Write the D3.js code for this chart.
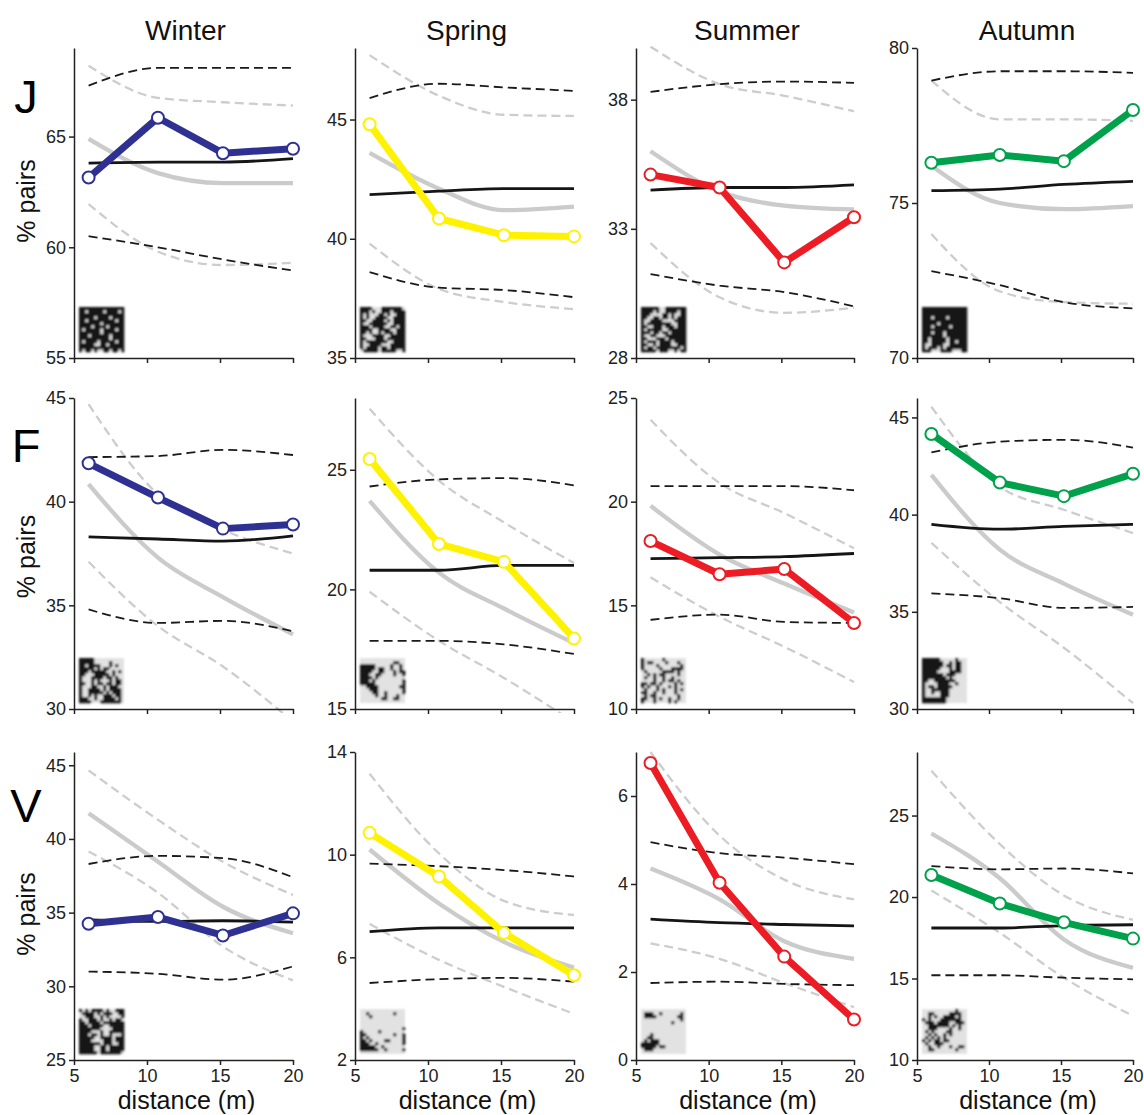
<!DOCTYPE html>
<html>
<head>
<meta charset="utf-8">
<script src="https://cdn.jsdelivr.net/npm/d3@7"></script>
<style>
  body { margin: 0; background: #fff; }
  svg { display: block; font-family: "Liberation Sans", Arial, Helvetica, sans-serif; }
</style>
</head>
<body>
<svg id="chart" width="1144" height="1115"></svg>
<script>
// ---- data -------------------------------------------------------------
const seasons = ["Winter", "Spring", "Summer", "Autumn"];
const rowLabels = ["J", "F", "V"];
const seasonColors = ["#2e3192", "#fff200", "#ed1c24", "#00a14b"];
const distances = [6, 10.75, 15.2, 20];
const xTicks = [5, 10, 15, 20];

// y-axis extent and tick values, rows J/F/V x seasons
const yDomains = [
  [[55, 69], [35, 48], [28, 40], [70, 80]],
  [[30, 45], [15, 28], [10, 25], [30, 46]],
  [[25, 45.9], [2, 14], [0, 7], [10, 28.9]]
];
const yTicks = [
  [[55, 60, 65], [35, 40, 45], [28, 33, 38], [70, 75, 80]],
  [[30, 35, 40, 45], [15, 20, 25], [10, 15, 20, 25], [30, 35, 40, 45]],
  [[25, 30, 35, 40, 45], [2, 6, 10, 14], [0, 2, 4, 6], [10, 15, 20, 25]]
];

// observed % of pairs
const observed = [
  [[63.15, 65.85, 64.25, 64.45], [44.8, 40.85, 40.15, 40.1], [35.1, 34.6, 31.7, 33.45], [76.3, 76.55, 76.35, 78.0]],
  [[41.85, 40.2, 38.7, 38.9], [25.45, 21.9, 21.15, 17.95], [18.1, 16.5, 16.75, 14.15], [44.15, 41.65, 40.95, 42.1]],
  [[34.25, 34.7, 33.45, 34.95], [10.85, 9.15, 6.95, 5.3], [6.75, 4.03, 2.35, 0.92], [21.35, 19.6, 18.45, 17.45]]
];

// random-placement null model: mean and envelope (black)
const nullMean = [
  [[63.8, 63.85, 63.85, 64.0], [41.85, 42.0, 42.1, 42.1], [34.5, 34.6, 34.6, 34.7], [75.4, 75.45, 75.6, 75.7]],
  [[38.3, 38.2, 38.1, 38.35], [20.8, 20.8, 21.0, 21.0], [17.25, 17.3, 17.35, 17.5], [39.5, 39.25, 39.4, 39.5]],
  [[34.5, 34.4, 34.45, 34.35], [7.0, 7.15, 7.15, 7.15], [3.2, 3.12, 3.08, 3.05], [18.1, 18.1, 18.25, 18.3]]
];
const nullUpper = [
  [[67.3, 68.1, 68.1, 68.1], [45.9, 46.5, 46.35, 46.2], [38.3, 38.6, 38.7, 38.65], [78.95, 79.25, 79.25, 79.2]],
  [[42.15, 42.2, 42.5, 42.25], [24.3, 24.6, 24.65, 24.35], [20.75, 20.75, 20.75, 20.55], [43.2, 43.75, 43.85, 43.45]],
  [[38.3, 38.85, 38.7, 37.4], [9.65, 9.55, 9.4, 9.15], [4.95, 4.7, 4.6, 4.45], [21.9, 21.7, 21.75, 21.45]]
];
const nullLower = [
  [[60.5, 60.0, 59.45, 58.95], [38.6, 37.95, 37.85, 37.55], [31.25, 30.8, 30.55, 30.0], [72.8, 72.35, 71.8, 71.6]],
  [[34.8, 34.15, 34.25, 33.75], [17.85, 17.85, 17.7, 17.3], [14.3, 14.55, 14.2, 14.15], [35.95, 35.7, 35.2, 35.25]],
  [[31.0, 30.85, 30.45, 31.35], [5.0, 5.15, 5.2, 5.05], [1.75, 1.78, 1.73, 1.7], [15.2, 15.2, 15.05, 14.95]]
];

// spatially structured model: mean and envelope (grey)
const structMean = [
  [[64.9, 63.35, 62.9, 62.9], [43.6, 42.1, 41.2, 41.35], [36.0, 34.45, 33.9, 33.75], [76.2, 75.0, 74.8, 74.9]],
  [[40.85, 37.3, 35.4, 33.6], [23.7, 20.7, 19.2, 17.75], [19.8, 17.45, 16.05, 14.65], [42.05, 38.2, 36.45, 34.85]],
  [[41.75, 38.45, 35.4, 33.6], [10.2, 8.1, 6.6, 5.6], [4.35, 3.65, 2.7, 2.3], [23.9, 21.15, 17.4, 15.65]]
];
const structUpper = [
  [[68.2, 66.75, 66.55, 66.4], [47.7, 46.0, 45.2, 45.15], [40.05, 38.6, 38.15, 37.55], [78.95, 77.7, 77.7, 77.65]],
  [[44.7, 40.35, 38.65, 37.5], [27.55, 24.55, 22.8, 21.1], [23.95, 20.9, 19.45, 17.75], [45.55, 41.45, 40.25, 39.05]],
  [[44.65, 41.3, 38.45, 36.2], [13.15, 10.05, 8.2, 7.65], [7.0, 5.1, 4.1, 3.65], [27.75, 23.25, 20.1, 18.6]]
];
const structLower = [
  [[61.95, 59.8, 59.2, 59.3], [39.8, 37.9, 37.35, 37.05], [32.45, 30.35, 29.75, 29.95], [74.0, 72.15, 71.8, 71.75]],
  [[37.1, 34.0, 32.05, 29.4], [19.9, 17.85, 16.3, 14.45], [16.35, 14.45, 13.0, 11.3], [38.55, 35.5, 33.15, 30.3]],
  [[39.15, 36.35, 32.7, 30.4], [7.3, 5.9, 4.85, 3.8], [2.65, 2.3, 1.75, 1.2], [20.4, 17.8, 15.05, 12.7]]
];

// occupancy maps (# = occupied cell)
const maps = [
  [
    ["###############", "##.#####.####.#", "###############", "#####.####.####", "##.#########.##",
     "#######.#######", "####.####.#####", "#.#####.####.##", "#######.#######", "###.######.####",
     "##########.####", "#.####.#####.##", "#####..##.#####", "###############", "#.##.#..##.##.#"],
    ["####...#######.", "###.#..###.####", "#.#...##.#..###", "#.#..####..####", "##..####.#.####",
     "#..######..####", "###.####..##.##", "####..####..###", "##.#..#.###.###", "#...####..#####",
     "##...###.######", "#.#######..####", "#..####...#####", "#.####.##.#####", ".#####.#####..#"],
    ["######..#######", "####.#..####.##", "###....##.#..##", "##..##.##.#.###", "#..####....####",
     "#.########..###", "##..###.###.###", "#.#####..######", "###.##.##.#####", "#..##...#######",
     "##...###.######", "#.###.####.####", "##..#.####..###", "#.##.########.#", "#####.###..#.##"],
    ["###############", "###############", "###############", "###.####.######", "###############",
     "#####.#########", "###.#####.#####", "###############", "###.###.#######", "#######.#######",
     "##.#####.######", "##.#####.##.###", "#..####..######", "#.###.#.#######", "###...####...##"]
  ],
  [
    ["#####..........", "#####.....#....", "##.####...#.#..", "#####.#.##.....", "###.#####..#.#.",
     "##...#####.#...", "#...####.##.#..", "#...#.#...#.##.", "##..#.##.##.##.", "#...##..#.###..",
     "#..####.#.####.", "#..#####.#.###.", "#..#.#..###.##.", "###..#..####.#.", "####...#######."],
    ["...............", "...........##..", "#####.....#..#.", "#####.##..#..#.", "####..##...#.##",
     "###..##....#..#", "####.#.........", "###.#.........#", "#####.........#", "..####.......##",
     "...###........#", "....##..#.....#", ".....#..#...#..", ".......##..##..", "..............."],
    ["#......#.......", "#.##....#...#..", "#....#.......#.", "#.....#...####.", ".#.....####.#..",
     "..#.#.##....#..", ".#..#..#..#....", "....#..#.##.#..", "##.##.#....#.#.", "#.#..#...#.#...",
     ".#...#.#...#.#.", "##..#..#...#...", ".#.##.......#..", "##..#.#..#..#..", "#...#....#.#..."],
    ["######.....#...", "#######..#.##..", "#######.##.##..", "######...#.##..", "#####....####..",
     "#######.###....", "########.#.....", "##..#######....", "#....####..#...", "#.##.#####.....",
     "#..######......", "#..#..###......", "#.....###......", "########.......", "########......."]
  ],
  [
    ["#.#.####.#..###", ".####.#.###..##", "..###..#.#....#", "#..###.#..#.##.", "##.####.#######",
     "###.####..#####", "#######....####", "####...#..#####", "###.##.#..#...#", "#####..####.###",
     "####....###.###", "#######.###..##", "#####..##.#####", "#####..##.#####", "######.#######."],
    ["...............", "..#........#...", "...#...........", "...............", "...............",
     "...............", "..............#", "#.....#........", "##.........#..#", "#.#...........#",
     "##.#....##....#", "###..#........#", "#####..#.......", "######..#.....#", "..............."],
    ["...............", ".###..#......#.", ".####.......##.", ".............#.", "..........#....",
     "...............", "...............", "...............", "...#...........", "..##...........",
     ".#.###.........", "######.........", "#####.##.......", ".###...........", "..............."],
    ["...........#...", "..##.....####..", "..#.#..####.#..", "#.#...#######..", ".###.####..###.",
     "..#######.#.#..", "..###....#..#..", ".#.#....##.....", "..#.#..#.#.....", ".#.#.#.#.......",
     "#.#.##.##......", ".#..###........", "..#..#...#..##.", "..##.......#...", "..............."]
  ]
];

// ---- layout -------------------------------------------------------------
const colLeft = [74, 355, 636, 917];
const colWidth = [219, 219, 218, 216];
const rowTop = [48, 398, 752];
const rowBottom = [358, 709, 1060];
const rowLetterY = [113, 462, 822];
const mapSize = 45;

const svg = d3.select("#chart");
const defs = svg.append("defs");
defs.append("filter").attr("id", "soft")
  .attr("x", "-5%").attr("y", "-5%").attr("width", "110%").attr("height", "110%")
  .append("feGaussianBlur").attr("stdDeviation", 0.8);

// season titles
seasons.forEach((s, c) => {
  svg.append("text")
    .attr("x", colLeft[c] + colWidth[c] / 2 + 2)
    .attr("y", 40)
    .attr("text-anchor", "middle")
    .attr("font-size", 28)
    .attr("fill", "#111")
    .text(s);
});

const refLine = d3.line().curve(d3.curveMonotoneX);
const obsLine = d3.line();

rowLabels.forEach((rl, r) => {
  // row letter and y label
  const midY = (rowTop[r] + rowBottom[r]) / 2;
  svg.append("text")
    .attr("x", 26).attr("y", rowLetterY[r])
    .attr("text-anchor", "middle")
    .attr("font-size", 47)
    .attr("fill", "#000")
    .text(rl);
  svg.append("text")
    .attr("transform", `translate(35,${midY + [-2, 3, 8][r]}) rotate(-90)`)
    .attr("text-anchor", "middle")
    .attr("font-size", 25)
    .attr("fill", "#111")
    .text("% pairs");

  seasons.forEach((s, c) => {
    const x = d3.scaleLinear().domain([5, 20]).range([colLeft[c], colLeft[c] + colWidth[c]]);
    const y = d3.scaleLinear().domain(yDomains[r][c]).range([rowBottom[r], rowTop[r]]);
    const g = svg.append("g");

    const clipId = `clip-${r}-${c}`;
    defs.append("clipPath").attr("id", clipId)
      .append("rect")
      .attr("x", colLeft[c] - 10).attr("y", rowTop[r] - 10)
      .attr("width", colWidth[c] + 20).attr("height", rowBottom[r] - rowTop[r] + 14);

    // occupancy map thumbnail
    const grid = maps[r][c];
    const n = grid.length;
    const cell = mapSize / n;
    const mx = colLeft[c] + 5, my = rowBottom[r] - mapSize - 6;
    const mg = g.append("g").attr("filter", "url(#soft)");
    mg.append("rect").attr("x", mx).attr("y", my).attr("width", mapSize).attr("height", mapSize)
      .attr("fill", "#e2e2e2");
    const cells = [];
    grid.forEach((row, i) => row.split("").forEach((ch, j) => { if (ch === "#") cells.push([i, j]); }));
    mg.selectAll(".cell").data(cells).join("rect")
      .attr("x", d => mx + d[1] * cell).attr("y", d => my + d[0] * cell)
      .attr("width", cell + 0.3).attr("height", cell + 0.3)
      .attr("fill", "#151515");

    const lines = g.append("g").attr("clip-path", `url(#${clipId})`);
    const pts = arr => arr.map((v, i) => [x(distances[i]), y(v)]);

    // grey model envelope and mean
    [structUpper, structLower].forEach(src => {
      lines.append("path").attr("d", refLine(pts(src[r][c])))
        .attr("fill", "none").attr("stroke", "#cdcdcd").attr("stroke-width", 2.3)
        .attr("stroke-dasharray", "9,5");
    });
    lines.append("path").attr("d", refLine(pts(structMean[r][c])))
      .attr("fill", "none").attr("stroke", "#cbcbcb").attr("stroke-width", 4.3);

    // black null envelope and mean
    [nullUpper, nullLower].forEach(src => {
      lines.append("path").attr("d", refLine(pts(src[r][c])))
        .attr("fill", "none").attr("stroke", "#1a1a1a").attr("stroke-width", 1.8)
        .attr("stroke-dasharray", "9,5");
    });
    lines.append("path").attr("d", refLine(pts(nullMean[r][c])))
      .attr("fill", "none").attr("stroke", "#151515").attr("stroke-width", 2.8);

    // observed series
    const col = seasonColors[c];
    lines.append("path").attr("d", obsLine(pts(observed[r][c])))
      .attr("fill", "none").attr("stroke", col).attr("stroke-width", 7)
      .attr("stroke-linejoin", "round");
    g.selectAll(".pt").data(observed[r][c]).join("circle")
      .attr("cx", (d, i) => x(distances[i])).attr("cy", d => y(d))
      .attr("r", 6).attr("fill", "#fff").attr("stroke", col).attr("stroke-width", 2);

    // axes
    const yAxis = d3.axisLeft(y).tickValues(yTicks[r][c]).tickFormat(d3.format("d"))
      .tickSize(5).tickSizeOuter(0).tickPadding(3);
    const xAxis = d3.axisBottom(x).tickValues(xTicks).tickSize(5).tickSizeOuter(0).tickPadding(4)
      .tickFormat(r === 2 ? d3.format("d") : () => "");
    const ya = g.append("g").attr("transform", `translate(${colLeft[c]},0)`).call(yAxis);
    const xa = g.append("g").attr("transform", `translate(0,${rowBottom[r]})`).call(xAxis);
    [ya, xa].forEach(a => {
      a.select(".domain").attr("stroke", "#222").attr("stroke-width", 1.5);
      a.selectAll(".tick line").attr("stroke", "#222").attr("stroke-width", 1.5);
      a.selectAll(".tick text").attr("font-size", 18).attr("fill", "#222")
        .attr("font-family", "Liberation Sans, Arial, sans-serif");
    });

    if (r === 2) {
      svg.append("text")
        .attr("x", colLeft[c] + colWidth[c] / 2 + 3)
        .attr("y", 1109)
        .attr("text-anchor", "middle")
        .attr("font-size", 25)
        .attr("fill", "#111")
        .text("distance (m)");
    }
  });
});
</script>
</body>
</html>
